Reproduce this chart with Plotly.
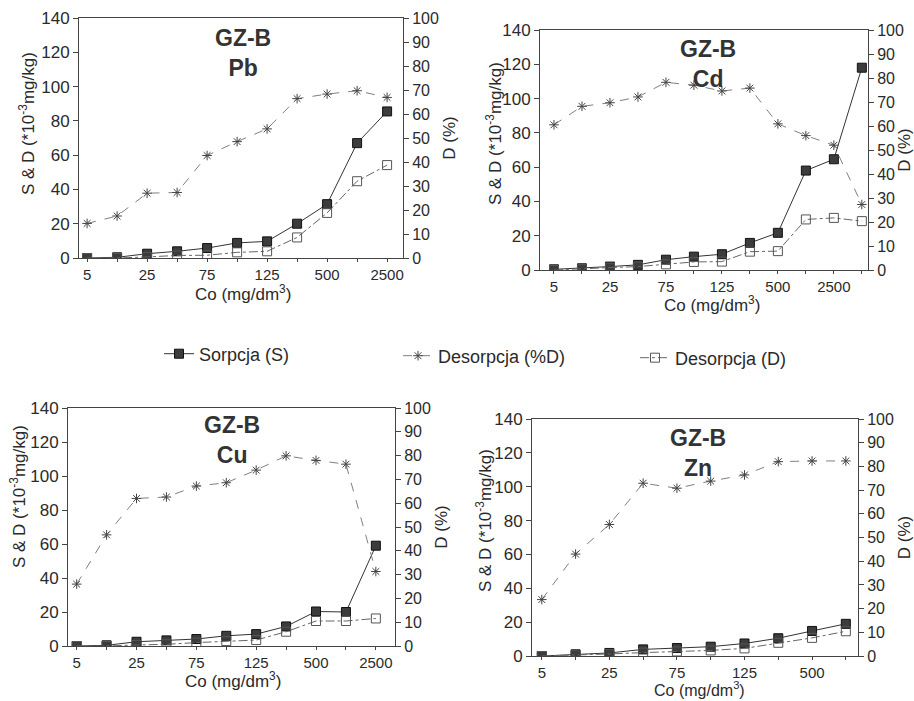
import plotly.graph_objects as go

conc = ["5", "10", "25", "50", "75", "100", "125", "250", "500", "1000", "2500", "5000"]
tick_labels = {"5": "5", "25": "25", "75": "75", "125": "125", "500": "500", "2500": "2500"}

# Pb
pb_S = [0, 0.4, 2.5, 3.9, 5.8, 8.8, 9.7, 20, 31.4, 67, 85.5]
pb_D = [0, 0, 0.6, 1.5, 1.6, 3.3, 3.9, 12, 26.3, 44.8, 54.2]
pb_P = [14.4, 17.5, 27, 27.3, 42.7, 48.5, 53.8, 66.4, 68.3, 69.7, 66.9]
# Cd
cd_S = [0.4, 1, 2, 3, 6, 7.8, 9.2, 15.8, 21.7, 58, 64.6, 118]
cd_D = [0, 0.5, 1.4, 2, 3.3, 4.7, 4.9, 10.7, 11, 29.5, 30.4, 28.5]
cd_P = [60.5, 68.2, 69.7, 72.1, 78.2, 77, 74.6, 75.8, 60.9, 56, 52, 27.3]
# Cu
cu_S = [0, 0.4, 2.5, 3.3, 4.1, 6, 7, 11.5, 20.3, 20, 59]
cu_D = [0, 0, 0.6, 1, 2, 2.9, 3.5, 8.4, 14.7, 14.7, 16.2]
cu_P = [26, 46.7, 62, 62.6, 67.2, 68.6, 73.9, 79.9, 78, 76.4, 31.3]
# Zn
zn_S = [0, 1, 1.8, 3.9, 4.7, 5.5, 7.4, 10.5, 14.8, 19]
zn_D = [0, 0.4, 1.2, 2, 2.7, 3.3, 4.5, 7.8, 10.7, 14.6]
zn_P = [23.8, 43, 55.5, 72.9, 70.8, 73.8, 76.4, 82, 82.3, 82.3]

metals = ["Pb", "Cd", "Cu", "Zn"]
series = {"Pb": (pb_S, pb_D, pb_P), "Cd": (cd_S, cd_D, cd_P),
          "Cu": (cu_S, cu_D, cu_P), "Zn": (zn_S, zn_D, zn_P)}

W, H = 914, 701
# plot boxes in pixels: left, right, top, bottom ; x padding (left, right)
boxes = {
    "Pb": (79, 403, 18, 258, 0.27, 0.53),
    "Cd": (540, 868, 30, 270, 0.5, 0.22),
    "Cu": (68, 395, 408, 646, 0.29, 0.64),
    "Zn": (532, 858, 419, 656, 0.29, 0.36),
}
# title centre x, centre y of the two-line block
title_pos = {"Pb": (243, 53), "Cd": (708, 64), "Cu": (232, 440), "Zn": (698, 453)}
# left axis title centre (x, y)
ytitle_pos = {"Pb": (27, 124), "Cd": (494, 134), "Cu": (18, 497), "Zn": (484, 521)}
# x axis title centre (x, y, font size)
xtitle_pos = {"Pb": (243, 293, 17), "Cd": (712, 304, 17), "Cu": (233, 680, 17), "Zn": (699, 689, 16)}

FONT = "Liberation Sans, Arial, sans-serif"
TXT = "#2a2a2a"
AX = "#444444"

fig = go.Figure()
layout = dict(
    width=W, height=H, margin=dict(l=0, r=0, t=0, b=0),
    paper_bgcolor="white", plot_bgcolor="white",
    font=dict(family=FONT, color=TXT, size=14),
    annotations=[],
)

for i, m in enumerate(metals):
    S, D, P = series[m]
    n = len(S)
    xs = conc[:n]
    xa = "x" if i == 0 else f"x{i+1}"
    ya = "y" if i == 0 else f"y{2*i+1}"
    yb = f"y{2*i+2}"
    first = i == 0
    fig.add_trace(go.Scatter(
        x=xs, y=S, xaxis=xa, yaxis=ya, mode="lines+markers", name="Sorpcja (S)",
        line=dict(color="#333333", width=1),
        marker=dict(symbol="square", size=9, color="#3c3c3c", line=dict(color="#111", width=1)),
        showlegend=first, legend="legend"))
    fig.add_trace(go.Scatter(
        x=xs, y=P, xaxis=xa, yaxis=yb, mode="lines+markers", name="Desorpcja (%D)",
        line=dict(color="#808080", width=1, dash="dash"),
        marker=dict(symbol="asterisk-open", size=8, color="#444444", line=dict(color="#444444", width=1)),
        showlegend=first, legend="legend2"))
    fig.add_trace(go.Scatter(
        x=xs, y=D, xaxis=xa, yaxis=ya, mode="lines+markers", name="Desorpcja (D)",
        line=dict(color="#666666", width=1, dash="dashdot"),
        marker=dict(symbol="square-open", size=9, color="#555555", line=dict(color="#555555", width=1)),
        showlegend=first, legend="legend3"))

    l, r, t, b, pl, pr = boxes[m]
    xd = [l / W, r / W]
    yd = [1 - b / H, 1 - t / H]
    xkey = "xaxis" if i == 0 else f"xaxis{i+1}"
    ykey = "yaxis" if i == 0 else f"yaxis{2*i+1}"
    ykey2 = f"yaxis{2*i+2}"
    layout[xkey] = dict(
        domain=xd, anchor=ya, type="category", categoryorder="array", categoryarray=xs,
        range=[-pl, n - 1 + pr], tickmode="array", tickvals=xs,
        ticktext=[tick_labels.get(v, "") for v in xs],
        ticks="outside", ticklen=3, tickcolor=AX, showline=True, linecolor=AX, linewidth=1,
        mirror=True, showgrid=False, zeroline=False,
        tickfont=dict(size=15, color=TXT), automargin=False)
    layout[ykey] = dict(
        domain=yd, anchor=xa, range=[0, 140], dtick=20, ticks="outside", ticklen=5,
        tickcolor=AX, showline=True, linecolor=AX, linewidth=1, showgrid=False, zeroline=False,
        tickfont=dict(size=17, color=TXT), automargin=False)
    layout[ykey2] = dict(
        domain=yd, anchor=xa, overlaying=ya, side="right", range=[0, 100], dtick=10,
        ticks="outside", ticklen=5, tickcolor=AX, showline=True, linecolor=AX, linewidth=1,
        showgrid=False, zeroline=False, tickfont=dict(size=16, color=TXT),
        title=dict(text="D (%)", font=dict(size=17, color=TXT), standoff=5),
        automargin=False)
    tx, ty = title_pos[m]
    layout["annotations"].append(dict(
        text=f"<b>GZ-B</b><br><b>{m}</b>", x=tx / W, y=1 - ty / H, xref="paper", yref="paper",
        showarrow=False, font=dict(size=23, color="#333333"), align="center",
        xanchor="center", yanchor="middle"))
    yx, yy = ytitle_pos[m]
    layout["annotations"].append(dict(
        text="S & D (*10<sup>-3</sup>mg/kg)", x=yx / W, y=1 - yy / H, xref="paper", yref="paper",
        showarrow=False, textangle=-90, font=dict(size=17, color=TXT),
        xanchor="center", yanchor="middle"))
    xx, xy, xf = xtitle_pos[m]
    layout["annotations"].append(dict(
        text="Co (mg/dm<sup>3</sup>)", x=xx / W, y=1 - xy / H, xref="paper", yref="paper",
        showarrow=False, font=dict(size=xf, color=TXT), xanchor="center", yanchor="middle"))

leg_common = dict(orientation="h", bgcolor="rgba(0,0,0,0)", font=dict(size=18, color=TXT),
                  xanchor="left", yanchor="middle")
layout["legend"] = dict(x=159 / W, y=1 - 354 / H, **leg_common)
layout["legend2"] = dict(x=398 / W, y=1 - 356 / H, **leg_common)
layout["legend3"] = dict(x=635 / W, y=1 - 358 / H, **leg_common)

fig.update_layout(**layout)
fig.write_html("out.html")
